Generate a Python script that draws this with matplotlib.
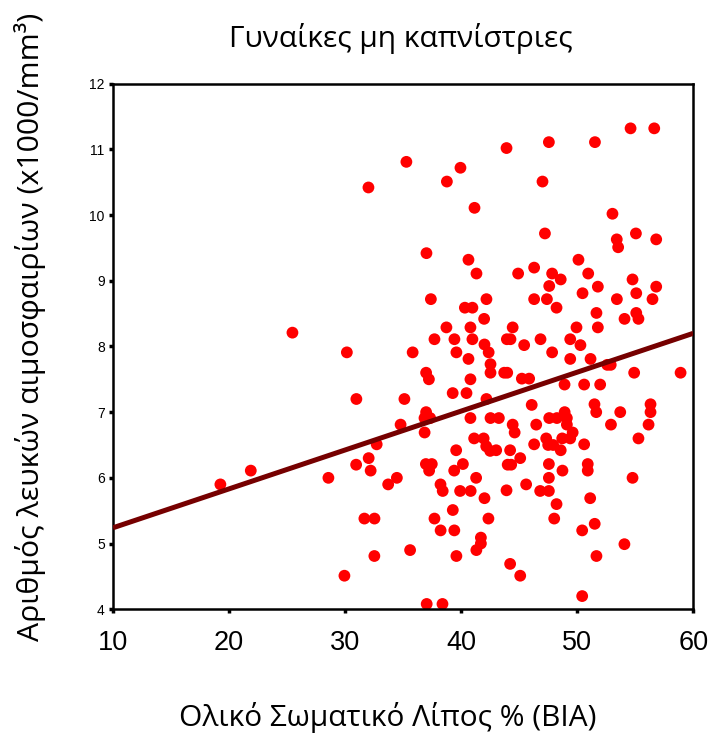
import matplotlib as mpl
import matplotlib.pyplot as plt
import numpy as np

# Body fat % (BIA) vs white blood cell count, non-smoking women
fat_pct = [
    32.01, 35.28, 39.94, 38.77, 43.91, 41.15, 37.01, 40.63, 41.32, 44.91,
    47.56, 51.53, 54.60, 56.64, 47.01, 53.04, 47.22, 55.06, 53.41, 56.81,
    53.53, 50.11, 46.29, 47.84, 48.58, 50.95, 54.77, 47.59, 51.78, 56.81,
    25.46, 30.15,
    37.39, 42.18, 40.32, 40.97, 41.98, 38.73, 40.80, 44.44, 37.70, 39.42,
    40.97, 43.94, 44.25, 42.01, 42.37, 35.82, 39.59, 40.63, 42.53, 42.53,
    43.71, 43.97, 36.98, 37.22, 40.80, 39.27, 40.46, 30.97, 35.11, 42.18,
    36.98, 36.84, 37.33, 34.78, 36.85, 40.80, 42.53, 43.25, 44.44, 44.61,
    32.72, 41.12, 41.94, 42.16, 42.50, 43.02, 39.57, 44.22,
    46.29, 47.39, 50.46, 53.42, 55.09, 56.49, 48.22, 51.66, 55.09, 55.28,
    54.08, 49.94, 51.78, 45.43, 46.84, 49.40, 50.28, 47.84, 49.40, 51.15,
    52.59, 52.89, 54.91, 58.91, 45.23, 45.86, 48.91, 50.60, 51.98, 46.08,
    51.49, 51.64, 53.71, 56.32, 56.32, 56.15, 52.91, 46.47, 47.59, 48.25,
    48.92, 49.11, 49.11, 49.61, 47.33, 47.93, 48.71, 49.40, 50.60, 55.28,
    46.29, 47.50,
    30.95, 32.03, 32.20, 28.56, 33.71, 34.46, 21.87, 19.25, 31.66, 32.53,
    32.52, 29.94, 35.60, 36.96, 37.47, 37.24, 40.15, 39.40, 41.29, 38.22,
    38.41, 39.91, 40.82, 42.01, 43.91, 44.01, 44.31, 39.28, 37.70, 42.35,
    38.23, 39.41, 41.70, 41.70, 41.31, 39.59, 44.22, 45.09, 37.03, 38.39,
    45.09, 48.58, 47.56, 48.73, 50.91, 50.91, 47.56, 54.77, 45.60, 46.81,
    47.56, 51.12, 48.22, 48.02, 50.43, 51.51, 54.07, 51.66, 50.43,
]
wbc = [
    10.42, 10.81, 10.72, 10.51, 11.02, 10.11, 9.42, 9.32, 9.11, 9.11,
    11.11, 11.11, 11.32, 11.32, 10.51, 10.02, 9.72, 9.72, 9.63, 9.63,
    9.51, 9.32, 9.20, 9.11, 9.02, 9.11, 9.02, 8.92, 8.91, 8.91,
    8.21, 7.91,
    8.72, 8.72, 8.59, 8.59, 8.42, 8.29, 8.29, 8.29, 8.11, 8.11,
    8.11, 8.11, 8.11, 8.03, 7.91, 7.91, 7.91, 7.81, 7.73, 7.60,
    7.60, 7.60, 7.60, 7.50, 7.50, 7.29, 7.29, 7.20, 7.20, 7.20,
    7.00, 6.91, 6.91, 6.81, 6.69, 6.91, 6.91, 6.91, 6.81, 6.69,
    6.51, 6.60, 6.60, 6.48, 6.41, 6.42, 6.42, 6.42,
    8.72, 8.72, 8.81, 8.72, 8.81, 8.72, 8.59, 8.51, 8.51, 8.42,
    8.42, 8.29, 8.29, 8.02, 8.11, 8.11, 8.02, 7.91, 7.81, 7.81,
    7.72, 7.72, 7.60, 7.60, 7.51, 7.51, 7.42, 7.42, 7.42, 7.11,
    7.12, 7.00, 7.00, 7.12, 7.00, 6.81, 6.81, 6.81, 6.91, 6.91,
    7.00, 6.91, 6.81, 6.69, 6.60, 6.50, 6.60, 6.60, 6.51, 6.60,
    6.51, 6.50,
    6.20, 6.30, 6.11, 6.00, 5.90, 6.00, 6.11, 5.90, 5.38, 5.38,
    4.81, 4.51, 4.90, 6.21, 6.21, 6.11, 6.21, 6.11, 6.00, 5.90,
    5.80, 5.80, 5.80, 5.69, 5.81, 6.20, 6.20, 5.51, 5.38, 5.38,
    5.20, 5.20, 5.09, 5.00, 4.90, 4.81, 4.69, 4.51, 4.08, 4.08,
    6.30, 6.42, 6.21, 6.11, 6.21, 6.11, 6.00, 6.00, 5.90, 5.80,
    5.80, 5.69, 5.60, 5.38, 5.20, 5.30, 4.99, 4.81, 4.20,
]

# fitted line as drawn in the original (endpoints at x = 10 and x = 60)
fit_x = [10, 60]
fit_y = [5.24, 8.20]

x_ticks = [10, 20, 30, 40, 50, 60]
y_ticks = [4, 5, 6, 7, 8, 9, 10, 11, 12]

title = "Γυναίκες μη καπνίστριες"
x_label = "Ολικό Σωματικό Λίπος % (BIA)"
y_label = "Αριθμός λευκών αιμοσφαιρίων (x1000/mm³)"

label_font = "Open Sans"
tick_font = "Liberation Sans"

fig = plt.figure(figsize=(7.11, 7.34), dpi=100)
ax = fig.add_axes([0.159, 0.170, 0.816, 0.716])

ax.scatter(fat_pct, wbc, s=72, color="#ff0000", edgecolors="none", zorder=2)
ax.plot(fit_x, fit_y, color="#760000", linewidth=3.6, zorder=3, solid_capstyle="butt")

ax.set_xlim(10, 60)
ax.set_ylim(4, 12)
ax.set_xticks(x_ticks)
ax.set_yticks(y_ticks)

for spine in ax.spines.values():
    spine.set_linewidth(1.8)
    spine.set_color("black")

ax.tick_params(axis="x", direction="out", length=3, width=2.5, pad=12,
               labelsize=19.5)
ax.tick_params(axis="y", direction="out", length=3, width=2.5, pad=3,
               labelsize=10)
for lab in ax.get_xticklabels() + ax.get_yticklabels():
    lab.set_fontfamily(tick_font)

fig.text(0.564, 0.948, title, ha="center", va="center", fontsize=21.5,
         family=label_font)
fig.text(0.546, 0.022, x_label, ha="center", va="center", fontsize=21.5,
         family=label_font)
fig.text(0.042, 0.555, y_label, ha="center", va="center", rotation=90,
         fontsize=21.8, family=label_font)

fig.savefig("out.png", dpi=100)
